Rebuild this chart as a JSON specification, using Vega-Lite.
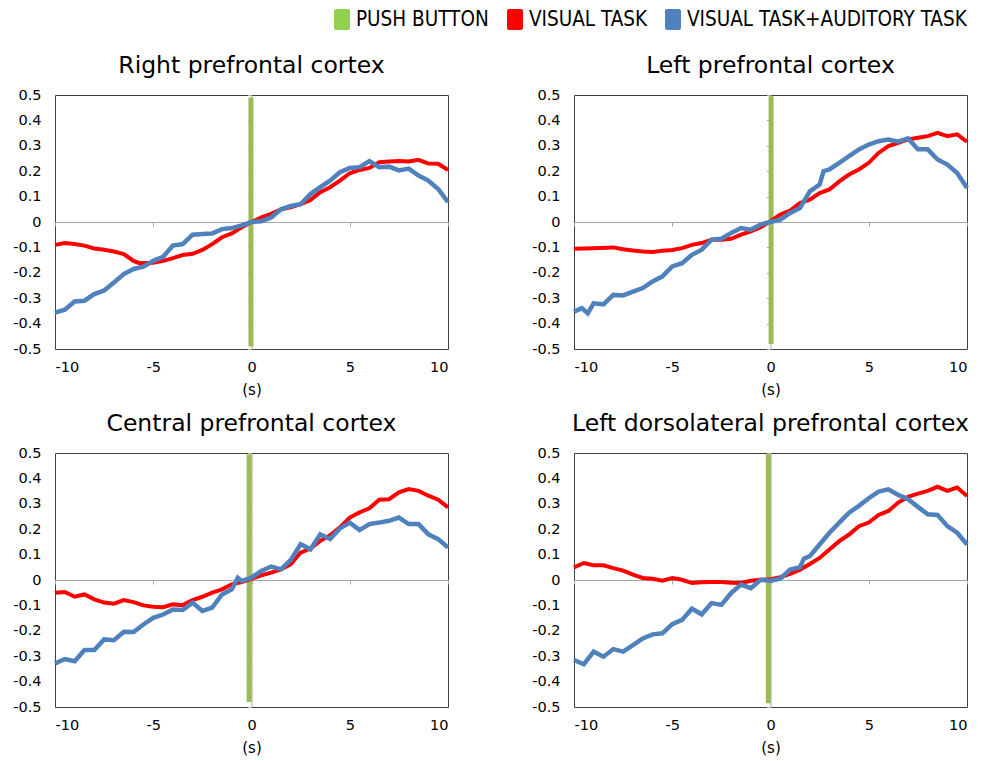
{
  "$schema": "https://vega.github.io/schema/vega-lite/v6.json",
  "padding": {"left": 12, "top": 9, "right": 5, "bottom": 5},
  "background": "white",
  "config": {
    "view": {"stroke": "#3f3f3f", "strokeWidth": 1},
    "font": "DejaVu Sans",
    "axis": {"labelFont": "DejaVu Sans", "labelFontSize": 14.5, "labelColor": "#000000", "titleFont": "DejaVu Sans", "titleFontSize": 15, "titleFontWeight": "normal", "titleColor": "#000000", "grid": false},
    "title": {"font": "DejaVu Sans", "fontSize": 23.5, "fontWeight": "normal", "color": "#000000", "offset": 10, "anchor": "middle", "frame": "group"}
  },
  "datasets": {
    "right": [
      {"series": "VISUAL TASK", "t": -10, "value": -0.09}, {"series": "VISUAL TASK", "t": -9.5, "value": -0.083}, {"series": "VISUAL TASK", "t": -9, "value": -0.087}, {"series": "VISUAL TASK", "t": -8.5, "value": -0.093}, {"series": "VISUAL TASK", "t": -8, "value": -0.104}, {"series": "VISUAL TASK", "t": -7.5, "value": -0.109}, {"series": "VISUAL TASK", "t": -7, "value": -0.116}, {"series": "VISUAL TASK", "t": -6.5, "value": -0.126}, {"series": "VISUAL TASK", "t": -6, "value": -0.153}, {"series": "VISUAL TASK", "t": -5.7, "value": -0.162}, {"series": "VISUAL TASK", "t": -5, "value": -0.16}, {"series": "VISUAL TASK", "t": -4.5, "value": -0.153}, {"series": "VISUAL TASK", "t": -4, "value": -0.142}, {"series": "VISUAL TASK", "t": -3.5, "value": -0.13}, {"series": "VISUAL TASK", "t": -3, "value": -0.125}, {"series": "VISUAL TASK", "t": -2.5, "value": -0.11}, {"series": "VISUAL TASK", "t": -2, "value": -0.087}, {"series": "VISUAL TASK", "t": -1.5, "value": -0.06}, {"series": "VISUAL TASK", "t": -1, "value": -0.045}, {"series": "VISUAL TASK", "t": -0.5, "value": -0.021}, {"series": "VISUAL TASK", "t": 0, "value": 0}, {"series": "VISUAL TASK", "t": 0.5, "value": 0.018}, {"series": "VISUAL TASK", "t": 1, "value": 0.032}, {"series": "VISUAL TASK", "t": 1.5, "value": 0.05}, {"series": "VISUAL TASK", "t": 2, "value": 0.058}, {"series": "VISUAL TASK", "t": 2.5, "value": 0.07}, {"series": "VISUAL TASK", "t": 3, "value": 0.087}, {"series": "VISUAL TASK", "t": 3.5, "value": 0.117}, {"series": "VISUAL TASK", "t": 4, "value": 0.137}, {"series": "VISUAL TASK", "t": 4.5, "value": 0.163}, {"series": "VISUAL TASK", "t": 5, "value": 0.192}, {"series": "VISUAL TASK", "t": 5.5, "value": 0.205}, {"series": "VISUAL TASK", "t": 6, "value": 0.213}, {"series": "VISUAL TASK", "t": 6.5, "value": 0.235}, {"series": "VISUAL TASK", "t": 7, "value": 0.238}, {"series": "VISUAL TASK", "t": 7.5, "value": 0.24}, {"series": "VISUAL TASK", "t": 8, "value": 0.238}, {"series": "VISUAL TASK", "t": 8.5, "value": 0.245}, {"series": "VISUAL TASK", "t": 9, "value": 0.23}, {"series": "VISUAL TASK", "t": 9.5, "value": 0.229}, {"series": "VISUAL TASK", "t": 10, "value": 0.205},
      {"series": "VISUAL TASK+AUDITORY TASK", "t": -10, "value": -0.357}, {"series": "VISUAL TASK+AUDITORY TASK", "t": -9.5, "value": -0.345}, {"series": "VISUAL TASK+AUDITORY TASK", "t": -9, "value": -0.313}, {"series": "VISUAL TASK+AUDITORY TASK", "t": -8.5, "value": -0.31}, {"series": "VISUAL TASK+AUDITORY TASK", "t": -8, "value": -0.284}, {"series": "VISUAL TASK+AUDITORY TASK", "t": -7.5, "value": -0.27}, {"series": "VISUAL TASK+AUDITORY TASK", "t": -7, "value": -0.238}, {"series": "VISUAL TASK+AUDITORY TASK", "t": -6.5, "value": -0.205}, {"series": "VISUAL TASK+AUDITORY TASK", "t": -6, "value": -0.185}, {"series": "VISUAL TASK+AUDITORY TASK", "t": -5.5, "value": -0.176}, {"series": "VISUAL TASK+AUDITORY TASK", "t": -5, "value": -0.153}, {"series": "VISUAL TASK+AUDITORY TASK", "t": -4.5, "value": -0.137}, {"series": "VISUAL TASK+AUDITORY TASK", "t": -4, "value": -0.093}, {"series": "VISUAL TASK+AUDITORY TASK", "t": -3.5, "value": -0.087}, {"series": "VISUAL TASK+AUDITORY TASK", "t": -3, "value": -0.05}, {"series": "VISUAL TASK+AUDITORY TASK", "t": -2.5, "value": -0.047}, {"series": "VISUAL TASK+AUDITORY TASK", "t": -2, "value": -0.045}, {"series": "VISUAL TASK+AUDITORY TASK", "t": -1.5, "value": -0.028}, {"series": "VISUAL TASK+AUDITORY TASK", "t": -1, "value": -0.024}, {"series": "VISUAL TASK+AUDITORY TASK", "t": -0.5, "value": -0.013}, {"series": "VISUAL TASK+AUDITORY TASK", "t": 0, "value": 0}, {"series": "VISUAL TASK+AUDITORY TASK", "t": 0.5, "value": 0.003}, {"series": "VISUAL TASK+AUDITORY TASK", "t": 1, "value": 0.018}, {"series": "VISUAL TASK+AUDITORY TASK", "t": 1.5, "value": 0.05}, {"series": "VISUAL TASK+AUDITORY TASK", "t": 2, "value": 0.063}, {"series": "VISUAL TASK+AUDITORY TASK", "t": 2.5, "value": 0.07}, {"series": "VISUAL TASK+AUDITORY TASK", "t": 3, "value": 0.11}, {"series": "VISUAL TASK+AUDITORY TASK", "t": 3.5, "value": 0.137}, {"series": "VISUAL TASK+AUDITORY TASK", "t": 4, "value": 0.163}, {"series": "VISUAL TASK+AUDITORY TASK", "t": 4.5, "value": 0.196}, {"series": "VISUAL TASK+AUDITORY TASK", "t": 5, "value": 0.213}, {"series": "VISUAL TASK+AUDITORY TASK", "t": 5.5, "value": 0.216}, {"series": "VISUAL TASK+AUDITORY TASK", "t": 6, "value": 0.24}, {"series": "VISUAL TASK+AUDITORY TASK", "t": 6.5, "value": 0.216}, {"series": "VISUAL TASK+AUDITORY TASK", "t": 7, "value": 0.218}, {"series": "VISUAL TASK+AUDITORY TASK", "t": 7.5, "value": 0.203}, {"series": "VISUAL TASK+AUDITORY TASK", "t": 8, "value": 0.21}, {"series": "VISUAL TASK+AUDITORY TASK", "t": 8.5, "value": 0.183}, {"series": "VISUAL TASK+AUDITORY TASK", "t": 9, "value": 0.163}, {"series": "VISUAL TASK+AUDITORY TASK", "t": 9.5, "value": 0.13}, {"series": "VISUAL TASK+AUDITORY TASK", "t": 10, "value": 0.078}
    ],
    "left": [
      {"series": "VISUAL TASK", "t": -10, "value": -0.105}, {"series": "VISUAL TASK", "t": -9, "value": -0.103}, {"series": "VISUAL TASK", "t": -8, "value": -0.1}, {"series": "VISUAL TASK", "t": -7.5, "value": -0.107}, {"series": "VISUAL TASK", "t": -7, "value": -0.112}, {"series": "VISUAL TASK", "t": -6.5, "value": -0.116}, {"series": "VISUAL TASK", "t": -6, "value": -0.118}, {"series": "VISUAL TASK", "t": -5.5, "value": -0.113}, {"series": "VISUAL TASK", "t": -5, "value": -0.11}, {"series": "VISUAL TASK", "t": -4.5, "value": -0.103}, {"series": "VISUAL TASK", "t": -4, "value": -0.09}, {"series": "VISUAL TASK", "t": -3.5, "value": -0.083}, {"series": "VISUAL TASK", "t": -3, "value": -0.07}, {"series": "VISUAL TASK", "t": -2.5, "value": -0.07}, {"series": "VISUAL TASK", "t": -2, "value": -0.066}, {"series": "VISUAL TASK", "t": -1.5, "value": -0.05}, {"series": "VISUAL TASK", "t": -1, "value": -0.037}, {"series": "VISUAL TASK", "t": -0.5, "value": -0.021}, {"series": "VISUAL TASK", "t": 0, "value": 0.003}, {"series": "VISUAL TASK", "t": 0.5, "value": 0.029}, {"series": "VISUAL TASK", "t": 1, "value": 0.045}, {"series": "VISUAL TASK", "t": 1.5, "value": 0.075}, {"series": "VISUAL TASK", "t": 2, "value": 0.088}, {"series": "VISUAL TASK", "t": 2.5, "value": 0.114}, {"series": "VISUAL TASK", "t": 3, "value": 0.128}, {"series": "VISUAL TASK", "t": 3.5, "value": 0.16}, {"series": "VISUAL TASK", "t": 4, "value": 0.187}, {"series": "VISUAL TASK", "t": 4.5, "value": 0.207}, {"series": "VISUAL TASK", "t": 5, "value": 0.233}, {"series": "VISUAL TASK", "t": 5.5, "value": 0.272}, {"series": "VISUAL TASK", "t": 6, "value": 0.299}, {"series": "VISUAL TASK", "t": 6.5, "value": 0.312}, {"series": "VISUAL TASK", "t": 7, "value": 0.325}, {"series": "VISUAL TASK", "t": 7.5, "value": 0.332}, {"series": "VISUAL TASK", "t": 8, "value": 0.338}, {"series": "VISUAL TASK", "t": 8.5, "value": 0.351}, {"series": "VISUAL TASK", "t": 9, "value": 0.338}, {"series": "VISUAL TASK", "t": 9.5, "value": 0.345}, {"series": "VISUAL TASK", "t": 10, "value": 0.316},
      {"series": "VISUAL TASK+AUDITORY TASK", "t": -10, "value": -0.353}, {"series": "VISUAL TASK+AUDITORY TASK", "t": -9.6, "value": -0.339}, {"series": "VISUAL TASK+AUDITORY TASK", "t": -9.3, "value": -0.359}, {"series": "VISUAL TASK+AUDITORY TASK", "t": -9, "value": -0.32}, {"series": "VISUAL TASK+AUDITORY TASK", "t": -8.5, "value": -0.324}, {"series": "VISUAL TASK+AUDITORY TASK", "t": -8, "value": -0.287}, {"series": "VISUAL TASK+AUDITORY TASK", "t": -7.5, "value": -0.289}, {"series": "VISUAL TASK+AUDITORY TASK", "t": -7, "value": -0.274}, {"series": "VISUAL TASK+AUDITORY TASK", "t": -6.5, "value": -0.26}, {"series": "VISUAL TASK+AUDITORY TASK", "t": -6, "value": -0.234}, {"series": "VISUAL TASK+AUDITORY TASK", "t": -5.5, "value": -0.214}, {"series": "VISUAL TASK+AUDITORY TASK", "t": -5, "value": -0.175}, {"series": "VISUAL TASK+AUDITORY TASK", "t": -4.5, "value": -0.162}, {"series": "VISUAL TASK+AUDITORY TASK", "t": -4, "value": -0.129}, {"series": "VISUAL TASK+AUDITORY TASK", "t": -3.5, "value": -0.109}, {"series": "VISUAL TASK+AUDITORY TASK", "t": -3, "value": -0.07}, {"series": "VISUAL TASK+AUDITORY TASK", "t": -2.5, "value": -0.066}, {"series": "VISUAL TASK+AUDITORY TASK", "t": -2, "value": -0.043}, {"series": "VISUAL TASK+AUDITORY TASK", "t": -1.5, "value": -0.024}, {"series": "VISUAL TASK+AUDITORY TASK", "t": -1, "value": -0.03}, {"series": "VISUAL TASK+AUDITORY TASK", "t": -0.5, "value": -0.01}, {"series": "VISUAL TASK+AUDITORY TASK", "t": 0, "value": 0}, {"series": "VISUAL TASK+AUDITORY TASK", "t": 0.5, "value": 0.009}, {"series": "VISUAL TASK+AUDITORY TASK", "t": 1, "value": 0.036}, {"series": "VISUAL TASK+AUDITORY TASK", "t": 1.5, "value": 0.055}, {"series": "VISUAL TASK+AUDITORY TASK", "t": 2, "value": 0.121}, {"series": "VISUAL TASK+AUDITORY TASK", "t": 2.5, "value": 0.147}, {"series": "VISUAL TASK+AUDITORY TASK", "t": 2.7, "value": 0.2}, {"series": "VISUAL TASK+AUDITORY TASK", "t": 3, "value": 0.207}, {"series": "VISUAL TASK+AUDITORY TASK", "t": 3.5, "value": 0.233}, {"series": "VISUAL TASK+AUDITORY TASK", "t": 4, "value": 0.259}, {"series": "VISUAL TASK+AUDITORY TASK", "t": 4.5, "value": 0.286}, {"series": "VISUAL TASK+AUDITORY TASK", "t": 5, "value": 0.305}, {"series": "VISUAL TASK+AUDITORY TASK", "t": 5.5, "value": 0.318}, {"series": "VISUAL TASK+AUDITORY TASK", "t": 6, "value": 0.325}, {"series": "VISUAL TASK+AUDITORY TASK", "t": 6.5, "value": 0.316}, {"series": "VISUAL TASK+AUDITORY TASK", "t": 7, "value": 0.329}, {"series": "VISUAL TASK+AUDITORY TASK", "t": 7.5, "value": 0.286}, {"series": "VISUAL TASK+AUDITORY TASK", "t": 8, "value": 0.286}, {"series": "VISUAL TASK+AUDITORY TASK", "t": 8.5, "value": 0.246}, {"series": "VISUAL TASK+AUDITORY TASK", "t": 9, "value": 0.226}, {"series": "VISUAL TASK+AUDITORY TASK", "t": 9.5, "value": 0.193}, {"series": "VISUAL TASK+AUDITORY TASK", "t": 10, "value": 0.134}
    ],
    "central": [
      {"series": "VISUAL TASK", "t": -10, "value": -0.05}, {"series": "VISUAL TASK", "t": -9.5, "value": -0.047}, {"series": "VISUAL TASK", "t": -9, "value": -0.066}, {"series": "VISUAL TASK", "t": -8.5, "value": -0.057}, {"series": "VISUAL TASK", "t": -8, "value": -0.076}, {"series": "VISUAL TASK", "t": -7.5, "value": -0.089}, {"series": "VISUAL TASK", "t": -7, "value": -0.093}, {"series": "VISUAL TASK", "t": -6.5, "value": -0.079}, {"series": "VISUAL TASK", "t": -6, "value": -0.087}, {"series": "VISUAL TASK", "t": -5.5, "value": -0.1}, {"series": "VISUAL TASK", "t": -5, "value": -0.105}, {"series": "VISUAL TASK", "t": -4.5, "value": -0.107}, {"series": "VISUAL TASK", "t": -4, "value": -0.096}, {"series": "VISUAL TASK", "t": -3.5, "value": -0.099}, {"series": "VISUAL TASK", "t": -3, "value": -0.079}, {"series": "VISUAL TASK", "t": -2.5, "value": -0.066}, {"series": "VISUAL TASK", "t": -2, "value": -0.05}, {"series": "VISUAL TASK", "t": -1.5, "value": -0.037}, {"series": "VISUAL TASK", "t": -1, "value": -0.017}, {"series": "VISUAL TASK", "t": -0.5, "value": -0.008}, {"series": "VISUAL TASK", "t": 0, "value": 0.005}, {"series": "VISUAL TASK", "t": 0.5, "value": 0.018}, {"series": "VISUAL TASK", "t": 1, "value": 0.029}, {"series": "VISUAL TASK", "t": 1.5, "value": 0.042}, {"series": "VISUAL TASK", "t": 2, "value": 0.062}, {"series": "VISUAL TASK", "t": 2.5, "value": 0.108}, {"series": "VISUAL TASK", "t": 3, "value": 0.124}, {"series": "VISUAL TASK", "t": 3.5, "value": 0.154}, {"series": "VISUAL TASK", "t": 4, "value": 0.176}, {"series": "VISUAL TASK", "t": 4.5, "value": 0.207}, {"series": "VISUAL TASK", "t": 5, "value": 0.246}, {"series": "VISUAL TASK", "t": 5.5, "value": 0.266}, {"series": "VISUAL TASK", "t": 6, "value": 0.282}, {"series": "VISUAL TASK", "t": 6.5, "value": 0.316}, {"series": "VISUAL TASK", "t": 7, "value": 0.318}, {"series": "VISUAL TASK", "t": 7.5, "value": 0.345}, {"series": "VISUAL TASK", "t": 8, "value": 0.358}, {"series": "VISUAL TASK", "t": 8.5, "value": 0.351}, {"series": "VISUAL TASK", "t": 9, "value": 0.332}, {"series": "VISUAL TASK", "t": 9.5, "value": 0.316}, {"series": "VISUAL TASK", "t": 10, "value": 0.286},
      {"series": "VISUAL TASK+AUDITORY TASK", "t": -10, "value": -0.329}, {"series": "VISUAL TASK+AUDITORY TASK", "t": -9.5, "value": -0.311}, {"series": "VISUAL TASK+AUDITORY TASK", "t": -9, "value": -0.32}, {"series": "VISUAL TASK+AUDITORY TASK", "t": -8.5, "value": -0.276}, {"series": "VISUAL TASK+AUDITORY TASK", "t": -8, "value": -0.276}, {"series": "VISUAL TASK+AUDITORY TASK", "t": -7.5, "value": -0.234}, {"series": "VISUAL TASK+AUDITORY TASK", "t": -7, "value": -0.237}, {"series": "VISUAL TASK+AUDITORY TASK", "t": -6.5, "value": -0.204}, {"series": "VISUAL TASK+AUDITORY TASK", "t": -6, "value": -0.205}, {"series": "VISUAL TASK+AUDITORY TASK", "t": -5.5, "value": -0.175}, {"series": "VISUAL TASK+AUDITORY TASK", "t": -5, "value": -0.149}, {"series": "VISUAL TASK+AUDITORY TASK", "t": -4.5, "value": -0.136}, {"series": "VISUAL TASK+AUDITORY TASK", "t": -4, "value": -0.116}, {"series": "VISUAL TASK+AUDITORY TASK", "t": -3.5, "value": -0.118}, {"series": "VISUAL TASK+AUDITORY TASK", "t": -3, "value": -0.089}, {"series": "VISUAL TASK+AUDITORY TASK", "t": -2.5, "value": -0.122}, {"series": "VISUAL TASK+AUDITORY TASK", "t": -2, "value": -0.109}, {"series": "VISUAL TASK+AUDITORY TASK", "t": -1.5, "value": -0.057}, {"series": "VISUAL TASK+AUDITORY TASK", "t": -1, "value": -0.037}, {"series": "VISUAL TASK+AUDITORY TASK", "t": -0.7, "value": 0.009}, {"series": "VISUAL TASK+AUDITORY TASK", "t": -0.5, "value": -0.004}, {"series": "VISUAL TASK+AUDITORY TASK", "t": 0, "value": 0.009}, {"series": "VISUAL TASK+AUDITORY TASK", "t": 0.5, "value": 0.036}, {"series": "VISUAL TASK+AUDITORY TASK", "t": 1, "value": 0.053}, {"series": "VISUAL TASK+AUDITORY TASK", "t": 1.5, "value": 0.042}, {"series": "VISUAL TASK+AUDITORY TASK", "t": 2, "value": 0.079}, {"series": "VISUAL TASK+AUDITORY TASK", "t": 2.5, "value": 0.141}, {"series": "VISUAL TASK+AUDITORY TASK", "t": 3, "value": 0.121}, {"series": "VISUAL TASK+AUDITORY TASK", "t": 3.5, "value": 0.18}, {"series": "VISUAL TASK+AUDITORY TASK", "t": 4, "value": 0.161}, {"series": "VISUAL TASK+AUDITORY TASK", "t": 4.5, "value": 0.203}, {"series": "VISUAL TASK+AUDITORY TASK", "t": 5, "value": 0.226}, {"series": "VISUAL TASK+AUDITORY TASK", "t": 5.5, "value": 0.197}, {"series": "VISUAL TASK+AUDITORY TASK", "t": 6, "value": 0.22}, {"series": "VISUAL TASK+AUDITORY TASK", "t": 6.5, "value": 0.226}, {"series": "VISUAL TASK+AUDITORY TASK", "t": 7, "value": 0.233}, {"series": "VISUAL TASK+AUDITORY TASK", "t": 7.5, "value": 0.246}, {"series": "VISUAL TASK+AUDITORY TASK", "t": 8, "value": 0.22}, {"series": "VISUAL TASK+AUDITORY TASK", "t": 8.5, "value": 0.22}, {"series": "VISUAL TASK+AUDITORY TASK", "t": 9, "value": 0.18}, {"series": "VISUAL TASK+AUDITORY TASK", "t": 9.5, "value": 0.161}, {"series": "VISUAL TASK+AUDITORY TASK", "t": 10, "value": 0.128}
    ],
    "dlpfc": [
      {"series": "VISUAL TASK", "t": -10, "value": 0.05}, {"series": "VISUAL TASK", "t": -9.5, "value": 0.067}, {"series": "VISUAL TASK", "t": -9, "value": 0.058}, {"series": "VISUAL TASK", "t": -8.5, "value": 0.058}, {"series": "VISUAL TASK", "t": -8, "value": 0.047}, {"series": "VISUAL TASK", "t": -7.5, "value": 0.037}, {"series": "VISUAL TASK", "t": -7, "value": 0.021}, {"series": "VISUAL TASK", "t": -6.5, "value": 0.008}, {"series": "VISUAL TASK", "t": -6, "value": 0.005}, {"series": "VISUAL TASK", "t": -5.5, "value": -0.003}, {"series": "VISUAL TASK", "t": -5, "value": 0.008}, {"series": "VISUAL TASK", "t": -4.5, "value": 0.001}, {"series": "VISUAL TASK", "t": -4, "value": -0.012}, {"series": "VISUAL TASK", "t": -3.5, "value": -0.009}, {"series": "VISUAL TASK", "t": -3, "value": -0.008}, {"series": "VISUAL TASK", "t": -2.5, "value": -0.008}, {"series": "VISUAL TASK", "t": -2, "value": -0.011}, {"series": "VISUAL TASK", "t": -1.5, "value": -0.012}, {"series": "VISUAL TASK", "t": -1, "value": -0.003}, {"series": "VISUAL TASK", "t": -0.5, "value": 0.001}, {"series": "VISUAL TASK", "t": 0, "value": 0.003}, {"series": "VISUAL TASK", "t": 0.5, "value": 0.011}, {"series": "VISUAL TASK", "t": 1, "value": 0.024}, {"series": "VISUAL TASK", "t": 1.5, "value": 0.041}, {"series": "VISUAL TASK", "t": 2, "value": 0.063}, {"series": "VISUAL TASK", "t": 2.5, "value": 0.087}, {"series": "VISUAL TASK", "t": 3, "value": 0.12}, {"series": "VISUAL TASK", "t": 3.5, "value": 0.153}, {"series": "VISUAL TASK", "t": 4, "value": 0.179}, {"series": "VISUAL TASK", "t": 4.5, "value": 0.212}, {"series": "VISUAL TASK", "t": 5, "value": 0.226}, {"series": "VISUAL TASK", "t": 5.5, "value": 0.256}, {"series": "VISUAL TASK", "t": 6, "value": 0.272}, {"series": "VISUAL TASK", "t": 6.5, "value": 0.305}, {"series": "VISUAL TASK", "t": 7, "value": 0.327}, {"series": "VISUAL TASK", "t": 7.5, "value": 0.34}, {"series": "VISUAL TASK", "t": 8, "value": 0.351}, {"series": "VISUAL TASK", "t": 8.5, "value": 0.367}, {"series": "VISUAL TASK", "t": 9, "value": 0.351}, {"series": "VISUAL TASK", "t": 9.5, "value": 0.364}, {"series": "VISUAL TASK", "t": 10, "value": 0.331},
      {"series": "VISUAL TASK+AUDITORY TASK", "t": -10, "value": -0.315}, {"series": "VISUAL TASK+AUDITORY TASK", "t": -9.5, "value": -0.332}, {"series": "VISUAL TASK+AUDITORY TASK", "t": -9, "value": -0.282}, {"series": "VISUAL TASK+AUDITORY TASK", "t": -8.5, "value": -0.302}, {"series": "VISUAL TASK+AUDITORY TASK", "t": -8, "value": -0.272}, {"series": "VISUAL TASK+AUDITORY TASK", "t": -7.5, "value": -0.282}, {"series": "VISUAL TASK+AUDITORY TASK", "t": -7, "value": -0.256}, {"series": "VISUAL TASK+AUDITORY TASK", "t": -6.5, "value": -0.23}, {"series": "VISUAL TASK+AUDITORY TASK", "t": -6, "value": -0.214}, {"series": "VISUAL TASK+AUDITORY TASK", "t": -5.5, "value": -0.21}, {"series": "VISUAL TASK+AUDITORY TASK", "t": -5, "value": -0.174}, {"series": "VISUAL TASK+AUDITORY TASK", "t": -4.5, "value": -0.157}, {"series": "VISUAL TASK+AUDITORY TASK", "t": -4, "value": -0.113}, {"series": "VISUAL TASK+AUDITORY TASK", "t": -3.5, "value": -0.135}, {"series": "VISUAL TASK+AUDITORY TASK", "t": -3, "value": -0.091}, {"series": "VISUAL TASK+AUDITORY TASK", "t": -2.5, "value": -0.098}, {"series": "VISUAL TASK+AUDITORY TASK", "t": -2, "value": -0.051}, {"series": "VISUAL TASK+AUDITORY TASK", "t": -1.5, "value": -0.018}, {"series": "VISUAL TASK+AUDITORY TASK", "t": -1, "value": -0.032}, {"series": "VISUAL TASK+AUDITORY TASK", "t": -0.5, "value": 0.001}, {"series": "VISUAL TASK+AUDITORY TASK", "t": 0, "value": -0.003}, {"series": "VISUAL TASK+AUDITORY TASK", "t": 0.5, "value": 0.005}, {"series": "VISUAL TASK+AUDITORY TASK", "t": 1, "value": 0.041}, {"series": "VISUAL TASK+AUDITORY TASK", "t": 1.5, "value": 0.05}, {"series": "VISUAL TASK+AUDITORY TASK", "t": 1.7, "value": 0.084}, {"series": "VISUAL TASK+AUDITORY TASK", "t": 2, "value": 0.094}, {"series": "VISUAL TASK+AUDITORY TASK", "t": 2.5, "value": 0.14}, {"series": "VISUAL TASK+AUDITORY TASK", "t": 3, "value": 0.186}, {"series": "VISUAL TASK+AUDITORY TASK", "t": 3.5, "value": 0.226}, {"series": "VISUAL TASK+AUDITORY TASK", "t": 4, "value": 0.265}, {"series": "VISUAL TASK+AUDITORY TASK", "t": 4.5, "value": 0.292}, {"series": "VISUAL TASK+AUDITORY TASK", "t": 5, "value": 0.322}, {"series": "VISUAL TASK+AUDITORY TASK", "t": 5.5, "value": 0.348}, {"series": "VISUAL TASK+AUDITORY TASK", "t": 6, "value": 0.357}, {"series": "VISUAL TASK+AUDITORY TASK", "t": 6.5, "value": 0.335}, {"series": "VISUAL TASK+AUDITORY TASK", "t": 7, "value": 0.318}, {"series": "VISUAL TASK+AUDITORY TASK", "t": 7.5, "value": 0.288}, {"series": "VISUAL TASK+AUDITORY TASK", "t": 8, "value": 0.259}, {"series": "VISUAL TASK+AUDITORY TASK", "t": 8.5, "value": 0.256}, {"series": "VISUAL TASK+AUDITORY TASK", "t": 9, "value": 0.212}, {"series": "VISUAL TASK+AUDITORY TASK", "t": 9.5, "value": 0.186}, {"series": "VISUAL TASK+AUDITORY TASK", "t": 10, "value": 0.14}
    ]
  },
  "resolve": {"scale": {"color": "shared"}, "legend": {"color": "shared"}},
  "columns": 2,
  "spacing": {"row": 13, "column": 73},
  "concat": [
    {
      "title": "Right prefrontal cortex",
      "width": 393, "height": 254,
      "resolve": {"axis": {"x": "independent", "y": "independent"}},
      "layer": [
        {"data": {"values": [{}]}, "mark": {"type": "rule", "color": "#9bbb59", "strokeWidth": 5},
         "encoding": {
           "x": {"datum": -0.03, "type": "quantitative", "scale": {"domain": [-10, 10], "nice": false}, "axis": {"orient": "bottom", "offset": -127, "labels": false, "title": null, "domainColor": "#a6a6a6", "tickColor": "#a6a6a6", "tickSize": 4, "values": [-10, -5, 0, 5, 10]}},
           "y": {"datum": -0.49, "type": "quantitative", "scale": {"domain": [-0.5, 0.5], "nice": false}, "axis": {"orient": "left", "offset": -196.5, "labels": false, "title": null, "domainColor": "#a6a6a6", "tickColor": "#a6a6a6", "tickSize": 4, "values": [-0.5, -0.4, -0.3, -0.2, -0.1, 0, 0.1, 0.2, 0.3, 0.4, 0.5]}},
           "y2": {"datum": 0.49}
         }},
        {"data": {"name": "right"}, "mark": {"type": "line", "strokeCap": "butt"},
         "encoding": {
           "x": {"field": "t", "type": "quantitative", "axis": {"orient": "bottom", "domain": false, "ticks": false, "labelPadding": 11, "titlePadding": 9, "title": "(s)", "values": [-10, -5, 0, 5, 10], "labelExpr": "datum.value < 0 ? '-' + format(-datum.value, 'd') : format(datum.value, 'd')"}},
           "y": {"field": "value", "type": "quantitative", "axis": {"orient": "left", "domain": false, "ticks": false, "labelPadding": 14, "title": null, "values": [-0.5, -0.4, -0.3, -0.2, -0.1, 0, 0.1, 0.2, 0.3, 0.4, 0.5], "labelExpr": "datum.value == 0 ? '0' : (datum.value < 0 ? '-' + format(-datum.value, '.1f') : format(datum.value, '.1f'))"}},
           "color": {"field": "series", "type": "nominal", "scale": {"domain": ["PUSH BUTTON", "VISUAL TASK", "VISUAL TASK+AUDITORY TASK"], "range": ["#92d050", "#ff0000", "#4f81bd"]},
             "legend": {"title": null, "orient": "none", "legendX": 276.5, "legendY": -86, "direction": "horizontal", "symbolType": "M-0.57,-1H0.57A0.19,0.19 0 0 1 0.76,-0.81V0.81A0.19,0.19 0 0 1 0.57,1H-0.57A0.19,0.19 0 0 1 -0.76,0.81V-0.81A0.19,0.19 0 0 1 -0.57,-1Z", "symbolSize": 441, "symbolStrokeWidth": 0, "labelFont": "DejaVu Sans Condensed, Roboto", "labelFontSize": 20.5, "labelColor": "#000000", "labelOffset": 3.5, "columnPadding": 15, "padding": 0, "labelLimit": 400,
               "encode": {"symbols": {"update": {"fill": {"scale": "color", "field": "value"}, "fillOpacity": {"value": 1}, "strokeWidth": {"value": 0}}}}}},
           "strokeWidth": {"field": "series", "type": "nominal", "scale": {"domain": ["VISUAL TASK", "VISUAL TASK+AUDITORY TASK"], "range": [4, 4.5]}, "legend": null}
         }}
      ]
    },
    {
      "title": "Left prefrontal cortex",
      "width": 393, "height": 254,
      "resolve": {"axis": {"x": "independent", "y": "independent"}},
      "layer": [
        {"data": {"values": [{}]}, "mark": {"type": "rule", "color": "#9bbb59", "strokeWidth": 5},
         "encoding": {
           "x": {"datum": 0.03, "type": "quantitative", "scale": {"domain": [-10, 10], "nice": false}, "axis": {"orient": "bottom", "offset": -127, "labels": false, "title": null, "domainColor": "#a6a6a6", "tickColor": "#a6a6a6", "tickSize": 4, "values": [-10, -5, 0, 5, 10]}},
           "y": {"datum": -0.48, "type": "quantitative", "scale": {"domain": [-0.5, 0.5], "nice": false}, "axis": {"orient": "left", "offset": -196.5, "labels": false, "title": null, "domainColor": "#a6a6a6", "tickColor": "#a6a6a6", "tickSize": 4, "values": [-0.5, -0.4, -0.3, -0.2, -0.1, 0, 0.1, 0.2, 0.3, 0.4, 0.5]}},
           "y2": {"datum": 0.495}
         }},
        {"data": {"name": "left"}, "mark": {"type": "line", "strokeCap": "butt"},
         "encoding": {
           "x": {"field": "t", "type": "quantitative", "axis": {"orient": "bottom", "domain": false, "ticks": false, "labelPadding": 11, "titlePadding": 9, "title": "(s)", "values": [-10, -5, 0, 5, 10], "labelExpr": "datum.value < 0 ? '-' + format(-datum.value, 'd') : format(datum.value, 'd')"}},
           "y": {"field": "value", "type": "quantitative", "axis": {"orient": "left", "domain": false, "ticks": false, "labelPadding": 14, "title": null, "values": [-0.5, -0.4, -0.3, -0.2, -0.1, 0, 0.1, 0.2, 0.3, 0.4, 0.5], "labelExpr": "datum.value == 0 ? '0' : (datum.value < 0 ? '-' + format(-datum.value, '.1f') : format(datum.value, '.1f'))"}},
           "color": {"field": "series", "type": "nominal"},
           "strokeWidth": {"field": "series", "type": "nominal", "scale": {"domain": ["VISUAL TASK", "VISUAL TASK+AUDITORY TASK"], "range": [4, 4.5]}, "legend": null}
         }}
      ]
    },
    {
      "title": "Central prefrontal cortex",
      "width": 393, "height": 254,
      "resolve": {"axis": {"x": "independent", "y": "independent"}},
      "layer": [
        {"data": {"values": [{}]}, "mark": {"type": "rule", "color": "#9bbb59", "strokeWidth": 5},
         "encoding": {
           "x": {"datum": -0.12, "type": "quantitative", "scale": {"domain": [-10, 10], "nice": false}, "axis": {"orient": "bottom", "offset": -127, "labels": false, "title": null, "domainColor": "#a6a6a6", "tickColor": "#a6a6a6", "tickSize": 4, "values": [-10, -5, 0, 5, 10]}},
           "y": {"datum": -0.48, "type": "quantitative", "scale": {"domain": [-0.5, 0.5], "nice": false}, "axis": {"orient": "left", "offset": -196.5, "labels": false, "title": null, "domainColor": "#a6a6a6", "tickColor": "#a6a6a6", "tickSize": 4, "values": [-0.5, -0.4, -0.3, -0.2, -0.1, 0, 0.1, 0.2, 0.3, 0.4, 0.5]}},
           "y2": {"datum": 0.495}
         }},
        {"data": {"name": "central"}, "mark": {"type": "line", "strokeCap": "butt"},
         "encoding": {
           "x": {"field": "t", "type": "quantitative", "axis": {"orient": "bottom", "domain": false, "ticks": false, "labelPadding": 11, "titlePadding": 9, "title": "(s)", "values": [-10, -5, 0, 5, 10], "labelExpr": "datum.value < 0 ? '-' + format(-datum.value, 'd') : format(datum.value, 'd')"}},
           "y": {"field": "value", "type": "quantitative", "axis": {"orient": "left", "domain": false, "ticks": false, "labelPadding": 14, "title": null, "values": [-0.5, -0.4, -0.3, -0.2, -0.1, 0, 0.1, 0.2, 0.3, 0.4, 0.5], "labelExpr": "datum.value == 0 ? '0' : (datum.value < 0 ? '-' + format(-datum.value, '.1f') : format(datum.value, '.1f'))"}},
           "color": {"field": "series", "type": "nominal"},
           "strokeWidth": {"field": "series", "type": "nominal", "scale": {"domain": ["VISUAL TASK", "VISUAL TASK+AUDITORY TASK"], "range": [4, 4.5]}, "legend": null}
         }}
      ]
    },
    {
      "title": "Left dorsolateral prefrontal cortex",
      "width": 393, "height": 254,
      "resolve": {"axis": {"x": "independent", "y": "independent"}},
      "layer": [
        {"data": {"values": [{}]}, "mark": {"type": "rule", "color": "#9bbb59", "strokeWidth": 5},
         "encoding": {
           "x": {"datum": -0.11, "type": "quantitative", "scale": {"domain": [-10, 10], "nice": false}, "axis": {"orient": "bottom", "offset": -127, "labels": false, "title": null, "domainColor": "#a6a6a6", "tickColor": "#a6a6a6", "tickSize": 4, "values": [-10, -5, 0, 5, 10]}},
           "y": {"datum": -0.485, "type": "quantitative", "scale": {"domain": [-0.5, 0.5], "nice": false}, "axis": {"orient": "left", "offset": -196.5, "labels": false, "title": null, "domainColor": "#a6a6a6", "tickColor": "#a6a6a6", "tickSize": 4, "values": [-0.5, -0.4, -0.3, -0.2, -0.1, 0, 0.1, 0.2, 0.3, 0.4, 0.5]}},
           "y2": {"datum": 0.495}
         }},
        {"data": {"name": "dlpfc"}, "mark": {"type": "line", "strokeCap": "butt"},
         "encoding": {
           "x": {"field": "t", "type": "quantitative", "axis": {"orient": "bottom", "domain": false, "ticks": false, "labelPadding": 11, "titlePadding": 9, "title": "(s)", "values": [-10, -5, 0, 5, 10], "labelExpr": "datum.value < 0 ? '-' + format(-datum.value, 'd') : format(datum.value, 'd')"}},
           "y": {"field": "value", "type": "quantitative", "axis": {"orient": "left", "domain": false, "ticks": false, "labelPadding": 14, "title": null, "values": [-0.5, -0.4, -0.3, -0.2, -0.1, 0, 0.1, 0.2, 0.3, 0.4, 0.5], "labelExpr": "datum.value == 0 ? '0' : (datum.value < 0 ? '-' + format(-datum.value, '.1f') : format(datum.value, '.1f'))"}},
           "color": {"field": "series", "type": "nominal"},
           "strokeWidth": {"field": "series", "type": "nominal", "scale": {"domain": ["VISUAL TASK", "VISUAL TASK+AUDITORY TASK"], "range": [4, 4.5]}, "legend": null}
         }}
      ]
    }
  ]
}
